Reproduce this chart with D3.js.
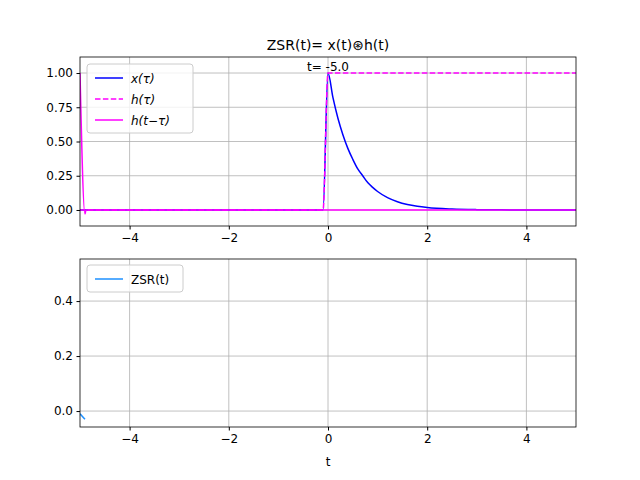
<!DOCTYPE html>
<html><head><meta charset="utf-8">
<script src="https://cdn.jsdelivr.net/npm/d3@7"></script>
<style>body{margin:0;background:#fff}text{font-family:"DejaVu Sans",sans-serif}</style>
</head><body><svg id="c" width="640" height="480"></svg>
<script>
// values
var xTau = [-5, -0.1, 0, 0.1, 0.2, 0.3, 0.4, 0.5, 0.6, 0.7, 0.8, 0.9, 1, 1.2, 1.4, 1.6, 1.8, 2, 2.5, 3, 3.5, 4, 5];
var xVal = [0, 0, 1, 0.82, 0.67, 0.55, 0.45, 0.37, 0.30, 0.25, 0.20, 0.165, 0.135, 0.09, 0.06, 0.04, 0.027, 0.018, 0.007, 0.0025, 0.001, 0, 0];
var hTau = [-5, -0.1, 0, 5];
var hVal = [0, 0, 1, 1];
var hsTau = [-5, -4.9, -4.88, 5];
var hsVal = [1, -0.03, 0, 0];
var zTau = [-5, -4.9];
var zVal = [-0.01, -0.03];
var xticks = [-4, -2, 0, 2, 4];
var yticks1 = [0, 0.25, 0.5, 0.75, 1.0];
var yticks2 = [0, 0.2, 0.4];

var svg = d3.select('#c');
var x = d3.scaleLinear().domain([-5, 5]).range([80, 576]);
var y1 = d3.scaleLinear().domain([-0.117, 1.117]).range([226, 57]);
var y2 = d3.scaleLinear().domain([-0.058, 0.553]).range([427, 259]);

function panel(y, yt, fmt, top, bot) {
  var g = svg.append('g');
  g.append('rect').attr('x', 80).attr('y', top).attr('width', 496).attr('height', bot - top).attr('fill', '#fff');
  g.selectAll('.gx').data(xticks).enter().append('line')
    .attr('x1', d => x(d)).attr('x2', d => x(d)).attr('y1', top).attr('y2', bot)
    .attr('stroke', '#b0b0b0').attr('stroke-width', 0.8);
  g.selectAll('.gy').data(yt).enter().append('line')
    .attr('x1', 80).attr('x2', 576).attr('y1', d => y(d)).attr('y2', d => y(d))
    .attr('stroke', '#b0b0b0').attr('stroke-width', 0.8);
  g.append('g').attr('transform', 'translate(0,' + bot + ')')
    .call(d3.axisBottom(x).tickValues(xticks).tickSize(3.5).tickPadding(3.5).tickFormat(d => d < 0 ? '\u2212' + (-d) : d))
    .call(a => a.select('.domain').remove())
    .selectAll('text').attr('font-size', 12).attr('fill', '#000');
  g.append('g').attr('transform', 'translate(80,0)')
    .call(d3.axisLeft(y).tickValues(yt).tickSize(3.5).tickPadding(3.5).tickFormat(fmt))
    .call(a => a.select('.domain').remove())
    .selectAll('text').attr('font-size', 12).attr('fill', '#000');
  return g;
}
function line(y, xs, ys, color, dash, clip) {
  var l = d3.line().x(d => x(d[0])).y(d => y(d[1])).curve(d3.curveMonotoneX);
  svg.append('path').datum(d3.zip(xs, ys)).attr('d', l).attr('fill', 'none')
    .attr('stroke', color).attr('stroke-width', 1.5).attr('stroke-dasharray', dash)
    .attr('clip-path', 'url(#' + clip + ')');
}
var defs = svg.append('defs');
defs.append('clipPath').attr('id', 'k1').append('rect').attr('x', 80).attr('y', 57).attr('width', 496).attr('height', 169);
defs.append('clipPath').attr('id', 'k2').append('rect').attr('x', 80).attr('y', 259).attr('width', 496).attr('height', 168);

panel(y1, yticks1, d3.format('.2f'), 57, 226);
line(y1, xTau, xVal, '#0000ff', null, 'k1');
line(y1, hTau, hVal, '#ff00ff', '5.5,2.4', 'k1');
line(y1, hsTau, hsVal, '#ff00ff', null, 'k1');
svg.append('text').attr('x', 328).attr('y', 71).attr('text-anchor', 'middle').attr('font-size', 12).text('t= -5.0');
svg.append('text').attr('x', 328).attr('y', 266).attr('text-anchor', 'middle').attr('font-size', 12).text('\u03c4');

panel(y2, yticks2, d3.format('.1f'), 259, 427);
line(y2, zTau, zVal, '#1e90ff', null, 'k2');
svg.append('text').attr('x', 328).attr('y', 466).attr('text-anchor', 'middle').attr('font-size', 12).text('t');

[[57, 226], [259, 427]].forEach(function (b) {
  svg.append('rect').attr('x', 80).attr('y', b[0]).attr('width', 496).attr('height', b[1] - b[0])
    .attr('fill', 'none').attr('stroke', '#000').attr('stroke-width', 0.8);
});
svg.append('text').attr('x', 328).attr('y', 50).attr('text-anchor', 'middle').attr('font-size', 14).text('ZSR(t)= x(t)\u229bh(t)');

function legend(x0, y0, w, items) {
  var g = svg.append('g');
  g.append('rect').attr('x', x0).attr('y', y0).attr('width', w).attr('height', items.length * 21 + 6)
    .attr('rx', 3).attr('fill', '#fff').attr('fill-opacity', 0.8).attr('stroke', '#ccc');
  items.forEach(function (it, i) {
    var yy = y0 + 14 + i * 21;
    g.append('line').attr('x1', x0 + 8).attr('x2', x0 + 36).attr('y1', yy).attr('y2', yy)
      .attr('stroke', it[1]).attr('stroke-width', 1.5).attr('stroke-dasharray', it[2]);
    g.append('text').attr('x', x0 + 44).attr('y', yy + 4.5).attr('font-size', 12).attr('font-style', it[3] ? 'italic' : null).text(it[0]);
  });
}
legend(87, 64, 106, [['x(\u03c4)', '#0000ff', null, 1], ['h(\u03c4)', '#ff00ff', '5.5,2.4', 1], ['h(t\u2212\u03c4)', '#ff00ff', null, 1]]);
legend(87, 265, 96, [['ZSR(t)', '#1e90ff', null, 0]]);
</script></body></html>
